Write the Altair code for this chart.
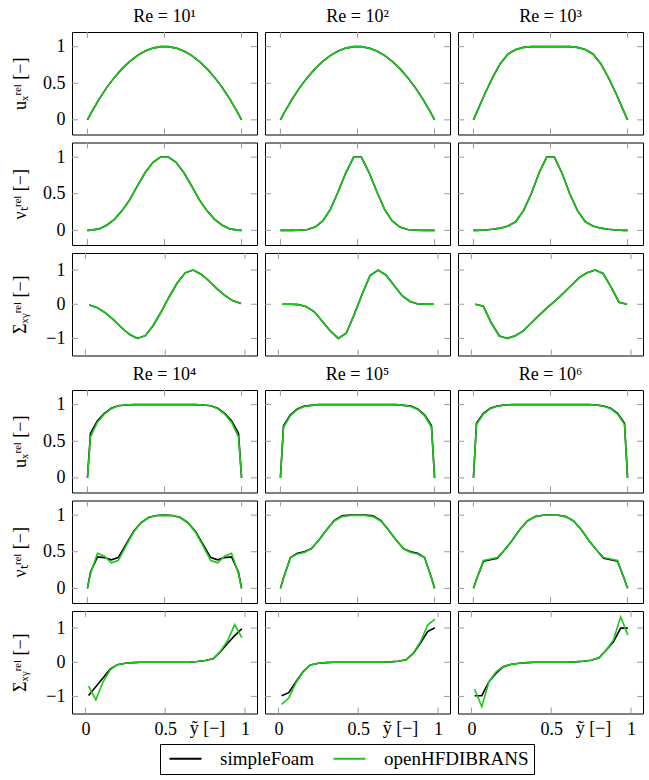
import altair as alt
import pandas as pd

FONT = "Liberation Serif"
GREEN = "#19c819"
SERIES = ["simpleFoam", "openHFDIBRANS"]
COLORS = ["#000000", GREEN]

RE_LABELS = ["Re = 10¹", "Re = 10²", "Re = 10³", "Re = 10⁴", "Re = 10⁵", "Re = 10⁶"]
QTY_TITLES = ["uₓʳᵉˡ [−]", "νₜʳᵉˡ [−]", "Σₓᵧʳᵉˡ [−]"]
X_TITLE = "ỹ [−]"
X_TICKS = [0, 0.5, 1]
Y_TICKS_01 = [0, 0.5, 1]
Y_TICKS_SIG = [-1, 0, 1]

# ---- grids ----
X_LOW = [0, 0.025, 0.075, 0.125, 0.175, 0.225, 0.275, 0.325, 0.375, 0.425, 0.475,
         0.525, 0.575, 0.625, 0.675, 0.725, 0.775, 0.825, 0.875, 0.925, 0.975, 1]
X_LOW_SIG = [0.025, 0.075, 0.125, 0.175, 0.225, 0.275, 0.325, 0.375, 0.425, 0.475,
             0.525, 0.575, 0.625, 0.675, 0.725, 0.775, 0.825, 0.875, 0.925, 0.975]
X_HIGH = [0, 0.02, 0.065, 0.11, 0.155, 0.2, 0.25, 0.3, 0.35, 0.4, 0.45, 0.5,
          0.55, 0.6, 0.65, 0.7, 0.75, 0.8, 0.845, 0.89, 0.935, 0.98, 1]
X_HIGH_SIG = [0.02, 0.065, 0.11, 0.155, 0.2, 0.25, 0.3, 0.35, 0.4, 0.45, 0.5,
              0.55, 0.6, 0.65, 0.7, 0.75, 0.8, 0.845, 0.89, 0.935, 0.98]

# ---- Re = 10^1 .. 10^3 (both solvers coincide) ----
U_RE1 = [0, 0.10, 0.28, 0.44, 0.58, 0.70, 0.80, 0.88, 0.94, 0.98, 1.0,
         1.0, 0.98, 0.94, 0.88, 0.80, 0.70, 0.58, 0.44, 0.28, 0.10, 0]
U_RE2 = [0, 0.10, 0.28, 0.44, 0.58, 0.70, 0.80, 0.88, 0.94, 0.98, 1.0,
         1.0, 0.98, 0.94, 0.88, 0.80, 0.70, 0.58, 0.44, 0.28, 0.10, 0]
U_RE3 = [0, 0.12, 0.36, 0.58, 0.77, 0.90, 0.96, 0.99, 1.0, 1.0, 1.0,
         1.0, 1.0, 1.0, 0.99, 0.96, 0.90, 0.77, 0.58, 0.36, 0.12, 0]
NU_RE1 = [0, 0.003, 0.02, 0.07, 0.15, 0.27, 0.42, 0.61, 0.79, 0.93, 1.0,
          1.0, 0.93, 0.79, 0.61, 0.42, 0.27, 0.15, 0.07, 0.02, 0.003, 0]
NU_RE2 = [0, 0, 0, 0.003, 0.012, 0.045, 0.13, 0.29, 0.53, 0.79, 1.0,
          1.0, 0.79, 0.53, 0.29, 0.13, 0.045, 0.012, 0.003, 0, 0, 0]
NU_RE3 = [0, 0.0, 0.005, 0.015, 0.03, 0.06, 0.12, 0.27, 0.5, 0.78, 1.0,
          1.0, 0.78, 0.5, 0.27, 0.12, 0.06, 0.03, 0.015, 0.005, 0.0, 0]
SIG_RE1 = [-0.02, -0.10, -0.25, -0.45, -0.68, -0.88, -1.0, -0.92, -0.62, -0.22,
           0.22, 0.62, 0.92, 1.0, 0.88, 0.68, 0.45, 0.25, 0.10, 0.02]
SIG_RE2 = [0, 0, -0.01, -0.07, -0.22, -0.5, -0.78, -1.0, -0.85, -0.3,
           0.3, 0.85, 1.0, 0.85, 0.55, 0.25, 0.08, 0.01, 0, 0]
SIG_RE3 = [0.0, -0.06, -0.55, -0.93, -1.0, -0.92, -0.78, -0.55, -0.32, -0.1,
           0.1, 0.32, 0.55, 0.78, 0.92, 1.0, 0.9, 0.5, 0.06, 0.0]

# ---- Re = 10^4 .. 10^6 (SF = simpleFoam, HF = openHFDIBRANS) ----
U_RE4_SF = [0, 0.61, 0.78, 0.88, 0.95, 0.985, 0.995, 1, 1, 1, 1, 1, 1, 1, 1, 1,
            0.995, 0.985, 0.95, 0.88, 0.78, 0.61, 0]
U_RE4_HF = [0, 0.56, 0.76, 0.87, 0.945, 0.985, 0.995, 1, 1, 1, 1, 1, 1, 1, 1, 1,
            0.995, 0.985, 0.945, 0.87, 0.76, 0.56, 0]
U_RE5_SF = [0, 0.71, 0.86, 0.94, 0.98, 0.99, 1.0, 1, 1, 1, 1, 1, 1, 1, 1, 1,
            1.0, 0.99, 0.98, 0.94, 0.86, 0.71, 0]
U_RE5_HF = [0, 0.69, 0.85, 0.935, 0.975, 0.99, 1.0, 1, 1, 1, 1, 1, 1, 1, 1, 1,
            1.0, 0.99, 0.975, 0.935, 0.85, 0.69, 0]
U_RE6_SF = [0, 0.745, 0.88, 0.95, 0.98, 0.995, 1.0, 1, 1, 1, 1, 1, 1, 1, 1, 1,
            1.0, 0.995, 0.98, 0.95, 0.88, 0.745, 0]
U_RE6_HF = [0, 0.73, 0.87, 0.945, 0.978, 0.995, 1.0, 1, 1, 1, 1, 1, 1, 1, 1, 1,
            1.0, 0.995, 0.978, 0.945, 0.87, 0.73, 0]
NU_RE4_SF = [0, 0.22, 0.43, 0.42, 0.39, 0.42, 0.6, 0.78, 0.9, 0.97, 0.995, 1.0,
             0.995, 0.97, 0.9, 0.78, 0.6, 0.42, 0.39, 0.42, 0.43, 0.22, 0]
NU_RE4_HF = [0, 0.2, 0.48, 0.44, 0.35, 0.38, 0.58, 0.77, 0.9, 0.97, 0.995, 1.0,
             0.995, 0.97, 0.9, 0.77, 0.58, 0.38, 0.35, 0.44, 0.48, 0.2, 0]
NU_RE5_SF = [0, 0.14, 0.42, 0.48, 0.5, 0.54, 0.66, 0.8, 0.93, 0.99, 1.0, 1.0,
             1.0, 0.99, 0.93, 0.8, 0.66, 0.54, 0.5, 0.48, 0.42, 0.14, 0]
NU_RE5_HF = [0, 0.14, 0.42, 0.47, 0.49, 0.54, 0.66, 0.8, 0.92, 0.98, 0.995, 1.0,
             0.995, 0.98, 0.92, 0.8, 0.66, 0.54, 0.49, 0.47, 0.42, 0.14, 0]
NU_RE6_SF = [0, 0.12, 0.37, 0.39, 0.41, 0.52, 0.65, 0.8, 0.92, 0.98, 0.998, 1.0,
             0.998, 0.98, 0.92, 0.8, 0.65, 0.52, 0.41, 0.39, 0.37, 0.12, 0]
NU_RE6_HF = [0, 0.12, 0.38, 0.40, 0.42, 0.52, 0.65, 0.8, 0.92, 0.98, 0.998, 1.0,
             0.998, 0.98, 0.92, 0.8, 0.65, 0.52, 0.42, 0.40, 0.38, 0.12, 0]
SIG_RE4_SF = [-0.97, -0.72, -0.46, -0.2, -0.07, -0.03, -0.01, 0, 0, 0, 0, 0, 0, 0,
              0.02, 0.05, 0.1, 0.3, 0.55, 0.78, 0.98]
SIG_RE4_HF = [-0.7, -1.1, -0.58, -0.22, -0.07, -0.03, -0.01, 0, 0, 0, 0, 0, 0, 0,
              0.02, 0.05, 0.1, 0.32, 0.62, 1.1, 0.72]
SIG_RE5_SF = [-0.98, -0.89, -0.57, -0.27, -0.08, -0.03, -0.01, 0, 0, 0, 0, 0, 0, 0,
              0.01, 0.03, 0.07, 0.26, 0.56, 0.9, 1.01]
SIG_RE5_HF = [-1.23, -1.05, -0.6, -0.28, -0.08, -0.03, -0.01, 0, 0, 0, 0, 0, 0, 0,
              0.01, 0.03, 0.07, 0.27, 0.6, 1.09, 1.26]
SIG_RE6_SF = [-0.98, -0.98, -0.57, -0.32, -0.13, -0.06, -0.03, -0.01, 0, 0, 0, 0, 0,
              0.01, 0.03, 0.06, 0.13, 0.36, 0.6, 1.0, 1.0]
SIG_RE6_HF = [-0.79, -1.3, -0.57, -0.28, -0.12, -0.06, -0.03, -0.01, 0, 0, 0, 0, 0,
              0.01, 0.03, 0.06, 0.13, 0.36, 0.65, 1.33, 0.8]

PANELS = [
    [(X_LOW, U_RE1, U_RE1), (X_LOW, NU_RE1, NU_RE1), (X_LOW_SIG, SIG_RE1, SIG_RE1)],
    [(X_LOW, U_RE2, U_RE2), (X_LOW, NU_RE2, NU_RE2), (X_LOW_SIG, SIG_RE2, SIG_RE2)],
    [(X_LOW, U_RE3, U_RE3), (X_LOW, NU_RE3, NU_RE3), (X_LOW_SIG, SIG_RE3, SIG_RE3)],
    [(X_HIGH, U_RE4_SF, U_RE4_HF), (X_HIGH, NU_RE4_SF, NU_RE4_HF), (X_HIGH_SIG, SIG_RE4_SF, SIG_RE4_HF)],
    [(X_HIGH, U_RE5_SF, U_RE5_HF), (X_HIGH, NU_RE5_SF, NU_RE5_HF), (X_HIGH_SIG, SIG_RE5_SF, SIG_RE5_HF)],
    [(X_HIGH, U_RE6_SF, U_RE6_HF), (X_HIGH, NU_RE6_SF, NU_RE6_HF), (X_HIGH_SIG, SIG_RE6_SF, SIG_RE6_HF)],
]

W, H = 185, 102.5
TICK_LEN = 6
TICK_COLOR = "#9a9a9a"
LBL = dict(labelFont=FONT, labelFontSize=18, labelColor="black", labelPadding=7,
           titleFont=FONT, titleColor="black", titleFontWeight="normal",
           domain=False, ticks=False, grid=False)


def panel(re_idx, q, col, bottom):
    xs, ysf, yhf = PANELS[re_idx][q]
    sig = q == 2
    xdom = [-0.084, 1.075] if sig else [-0.1, 1.1]
    ydom = [-1.5, 1.5] if sig else [-0.2, 1.2]
    yticks = Y_TICKS_SIG if sig else Y_TICKS_01

    xaxis = (alt.Axis(values=X_TICKS, format="~g", title=X_TITLE, titleX=135, titleY=15,
                      titleBaseline="middle", titleAlign="center", titleFontSize=18, **LBL)
             if bottom else None)
    yaxis = (alt.Axis(values=yticks, format="~g", title=QTY_TITLES[q], titleX=-52, titleY=H / 2,
                      titleAngle=-90, titleBaseline="middle", titleAlign="center",
                      titleFontSize=18, **LBL)
             if col == 0 else None)
    xenc = alt.X("x:Q", scale=alt.Scale(domain=xdom, nice=False, zero=False), axis=xaxis)
    yenc = alt.Y("y:Q", scale=alt.Scale(domain=ydom, nice=False, zero=False), axis=yaxis)
    cenc = alt.Color("s:N", scale=alt.Scale(domain=SERIES, range=COLORS),
                     legend=alt.Legend(title=None, labelFont=FONT, labelFontSize=19,
                                       labelColor="black"))

    df_sf = pd.DataFrame({"x": xs, "y": ysf, "s": SERIES[0]})
    df_hf = pd.DataFrame({"x": xs, "y": yhf, "s": SERIES[1]})
    xt = pd.DataFrame({"x": X_TICKS})
    yt = pd.DataFrame({"y": yticks})

    line_sf = alt.Chart(df_sf).mark_line(strokeWidth=1.6).encode(x=xenc, y=yenc, color=cenc)
    line_hf = alt.Chart(df_hf).mark_line(strokeWidth=1.6).encode(x=xenc, y=yenc, color=cenc)
    tk = dict(color=TICK_COLOR, strokeWidth=1)
    xt_top = alt.Chart(xt).mark_rule(**tk).encode(x=xenc, y=alt.value(0), y2=alt.value(TICK_LEN))
    xt_bot = alt.Chart(xt).mark_rule(**tk).encode(x=xenc, y=alt.value(H), y2=alt.value(H - TICK_LEN))
    yt_l = alt.Chart(yt).mark_rule(**tk).encode(y=yenc, x=alt.value(0), x2=alt.value(TICK_LEN))
    yt_r = alt.Chart(yt).mark_rule(**tk).encode(y=yenc, x=alt.value(W - TICK_LEN), x2=alt.value(W))

    layers = [xt_top, xt_bot, yt_l, yt_r, line_sf, line_hf]
    if q == 0:
        tdf = pd.DataFrame({"t": [RE_LABELS[re_idx]]})
        layers.append(alt.Chart(tdf).mark_text(font=FONT, fontSize=18, baseline="alphabetic",
                                               align="center", color="black")
                      .encode(text="t:N", x=alt.value(W / 2), y=alt.value(-10)))
    return alt.layer(*layers).properties(width=W, height=H)


blocks = []
for b in range(2):
    rows = []
    for q in range(3):
        cells = [panel(3 * b + c, q, c, bottom=(b == 1 and q == 2)) for c in range(3)]
        rows.append(alt.hconcat(*cells, spacing=6).resolve_scale(x="independent", y="independent"))
    blocks.append(alt.vconcat(*rows, spacing=5.5).resolve_scale(x="independent", y="independent"))

chart = (
    alt.vconcat(*blocks, spacing=8)
    .resolve_scale(x="independent", y="independent", color="shared")
    .properties(padding={"left": 10, "top": 7, "right": 5, "bottom": 5})
    .configure(font=FONT)
    .configure_view(stroke="black", strokeWidth=1)
    .configure_legend(orient="none", legendX=88, legendY=712, direction="horizontal",
                      strokeColor="black", padding=5, symbolType="M-2,0H2", symbolSize=256,
                      symbolOffset=11, symbolStrokeWidth=2, labelFont=FONT, labelFontSize=19,
                      labelColor="black", columnPadding=15, labelOffset=25)
)

chart.save("out.html", embed_options={"renderer": "svg", "actions": False})
